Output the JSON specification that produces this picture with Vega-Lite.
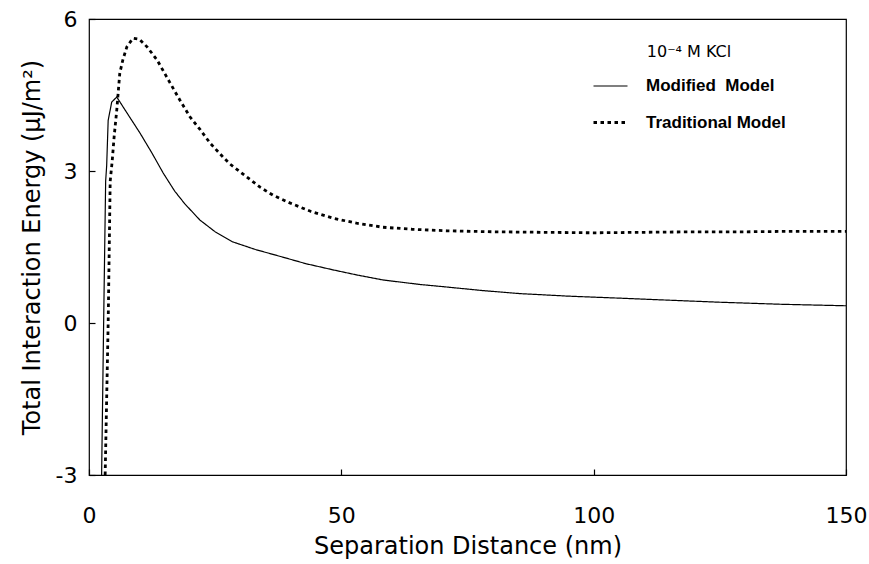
{
  "$schema": "https://vega.github.io/schema/vega-lite/v6.json",
  "width": 757,
  "height": 456,
  "autosize": {"type": "none"},
  "padding": {"left": 89, "top": 19, "right": 23, "bottom": 89},
  "background": "white",
  "config": {
    "view": {"stroke": "black", "strokeWidth": 1.2},
    "font": "DejaVu Sans",
    "axis": {"grid": false, "domain": false, "tickColor": "black", "tickWidth": 1.2, "labelColor": "black", "titleColor": "black", "labelFont": "DejaVu Sans", "titleFont": "DejaVu Sans", "titleFontWeight": "normal", "labelFlush": false}
  },
  "datasets": {
    "curves": [
      {"model": "Modified Model", "x": 2.5, "y": -3},
      {"model": "Modified Model", "x": 2.9, "y": 0},
      {"model": "Modified Model", "x": 3.3, "y": 2.8},
      {"model": "Modified Model", "x": 3.5, "y": 3.1},
      {"model": "Modified Model", "x": 3.8, "y": 4.0},
      {"model": "Modified Model", "x": 4.5, "y": 4.36},
      {"model": "Modified Model", "x": 5.5, "y": 4.46},
      {"model": "Modified Model", "x": 7.5, "y": 4.15},
      {"model": "Modified Model", "x": 10.1, "y": 3.75},
      {"model": "Modified Model", "x": 12.5, "y": 3.35},
      {"model": "Modified Model", "x": 14.7, "y": 2.96},
      {"model": "Modified Model", "x": 17, "y": 2.6},
      {"model": "Modified Model", "x": 19, "y": 2.35},
      {"model": "Modified Model", "x": 22, "y": 2.03},
      {"model": "Modified Model", "x": 25, "y": 1.8},
      {"model": "Modified Model", "x": 28.5, "y": 1.6},
      {"model": "Modified Model", "x": 33, "y": 1.45},
      {"model": "Modified Model", "x": 38.4, "y": 1.3},
      {"model": "Modified Model", "x": 43, "y": 1.17},
      {"model": "Modified Model", "x": 48.3, "y": 1.05},
      {"model": "Modified Model", "x": 53, "y": 0.95},
      {"model": "Modified Model", "x": 58.2, "y": 0.85},
      {"model": "Modified Model", "x": 65.6, "y": 0.76},
      {"model": "Modified Model", "x": 70.9, "y": 0.71},
      {"model": "Modified Model", "x": 78, "y": 0.64},
      {"model": "Modified Model", "x": 85.4, "y": 0.58},
      {"model": "Modified Model", "x": 95, "y": 0.53},
      {"model": "Modified Model", "x": 105.2, "y": 0.49},
      {"model": "Modified Model", "x": 115, "y": 0.45},
      {"model": "Modified Model", "x": 125, "y": 0.41},
      {"model": "Modified Model", "x": 137, "y": 0.37},
      {"model": "Modified Model", "x": 150, "y": 0.34},
      {"model": "Traditional Model", "x": 3.2, "y": -3},
      {"model": "Traditional Model", "x": 3.8, "y": 0},
      {"model": "Traditional Model", "x": 4.2, "y": 2.8},
      {"model": "Traditional Model", "x": 4.6, "y": 3.2},
      {"model": "Traditional Model", "x": 5.0, "y": 3.7},
      {"model": "Traditional Model", "x": 5.5, "y": 4.2},
      {"model": "Traditional Model", "x": 6.1, "y": 4.93},
      {"model": "Traditional Model", "x": 6.7, "y": 5.19},
      {"model": "Traditional Model", "x": 7.5, "y": 5.45},
      {"model": "Traditional Model", "x": 8.7, "y": 5.62},
      {"model": "Traditional Model", "x": 10, "y": 5.6},
      {"model": "Traditional Model", "x": 11.5, "y": 5.45},
      {"model": "Traditional Model", "x": 13.5, "y": 5.19},
      {"model": "Traditional Model", "x": 16, "y": 4.75},
      {"model": "Traditional Model", "x": 18, "y": 4.4},
      {"model": "Traditional Model", "x": 20, "y": 4.07},
      {"model": "Traditional Model", "x": 22, "y": 3.82},
      {"model": "Traditional Model", "x": 24, "y": 3.55},
      {"model": "Traditional Model", "x": 26.5, "y": 3.28},
      {"model": "Traditional Model", "x": 27.9, "y": 3.14},
      {"model": "Traditional Model", "x": 31.3, "y": 2.88},
      {"model": "Traditional Model", "x": 33.9, "y": 2.68},
      {"model": "Traditional Model", "x": 36.5, "y": 2.52},
      {"model": "Traditional Model", "x": 39.8, "y": 2.37},
      {"model": "Traditional Model", "x": 44, "y": 2.2},
      {"model": "Traditional Model", "x": 48.3, "y": 2.07},
      {"model": "Traditional Model", "x": 53, "y": 1.97},
      {"model": "Traditional Model", "x": 58.2, "y": 1.89},
      {"model": "Traditional Model", "x": 64, "y": 1.85},
      {"model": "Traditional Model", "x": 70.9, "y": 1.82},
      {"model": "Traditional Model", "x": 80, "y": 1.8},
      {"model": "Traditional Model", "x": 90, "y": 1.79},
      {"model": "Traditional Model", "x": 100, "y": 1.78},
      {"model": "Traditional Model", "x": 110, "y": 1.79},
      {"model": "Traditional Model", "x": 120, "y": 1.8},
      {"model": "Traditional Model", "x": 130, "y": 1.8},
      {"model": "Traditional Model", "x": 140, "y": 1.81},
      {"model": "Traditional Model", "x": 150, "y": 1.81}
    ]
  },
  "layer": [
    {
      "mark": {"type": "rule", "color": "black", "strokeWidth": 1.6},
      "encoding": {"y": {"datum": 0, "type": "quantitative", "scale": {"domain": [-3, 6]}}}
    },
    {
      "data": {"name": "curves"},
      "mark": {"type": "line", "color": "black", "clip": true},
      "encoding": {
        "x": {
          "field": "x", "type": "quantitative",
          "scale": {"domain": [0, 150], "nice": false},
          "axis": {"values": [0, 50, 100, 150], "tickSize": -6, "labelFontSize": 22, "labelPadding": 36, "title": "Separation Distance (nm)", "titleFontSize": 24, "titlePadding": 8}
        },
        "y": {
          "field": "y", "type": "quantitative",
          "scale": {"domain": [-3, 6], "nice": false},
          "axis": {"values": [-3, 0, 3, 6], "tickSize": -6, "labelFontSize": 22, "labelPadding": 18, "labelExpr": "toString(datum.value)", "title": "Total Interaction Energy (μJ/m²)", "titleFontSize": 24, "titlePadding": 11}
        },
        "strokeDash": {
          "field": "model", "type": "nominal",
          "scale": {"domain": ["Modified Model", "Traditional Model"], "range": [[1, 0], [3.5, 3.5]]},
          "legend": {
            "title": "10⁻⁴ M KCl",
            "orient": "none",
            "legendX": 503,
            "legendY": 25,
            "titleFont": "DejaVu Sans",
            "titleFontSize": 16,
            "titleFontWeight": "normal",
            "titleAnchor": "middle",
            "titlePadding": 8,
            "labelFont": "Liberation Sans",
            "labelFontSize": 17,
            "labelFontWeight": "bold",
            "labelOffset": 17,
            "labelExpr": "datum.label == 'Modified Model' ? 'Modified\u00a0\u00a0Model' : datum.label",
            "rowPadding": 10,
            "symbolType": "stroke",
            "symbolSize": 1156,
            "symbolStrokeColor": "black",
            "symbolStrokeWidth": 1.6
          }
        },
        "strokeWidth": {
          "field": "model", "type": "nominal",
          "scale": {"domain": ["Modified Model", "Traditional Model"], "range": [1.2, 2.8]},
          "legend": null
        }
      }
    }
  ]
}
